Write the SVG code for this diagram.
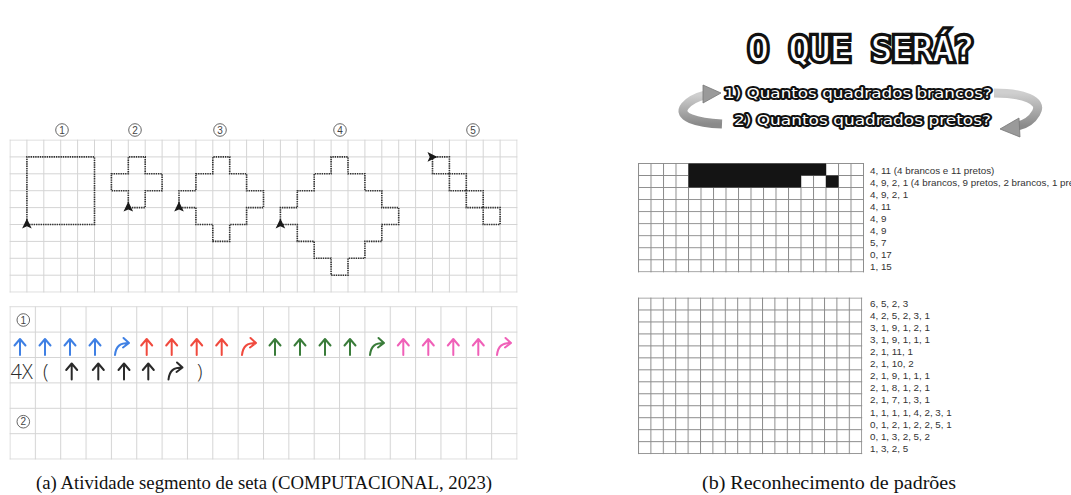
<svg xmlns="http://www.w3.org/2000/svg" width="1071" height="495" viewBox="0 0 1071 495">
<style>
.lbl{font-family:"Liberation Sans",Arial,sans-serif;font-size:10px;fill:#444;text-anchor:middle}
.circ{fill:none;stroke:#555;stroke-width:0.9}
.dot{fill:none;stroke:#333;stroke-width:1.6;stroke-dasharray:1.4 0.9}
.tri{fill:#1a1a1a}
.hand{fill:none;stroke-width:2;stroke-linecap:round;stroke-linejoin:round}
.blue{stroke:#3f80e4}.red{stroke:#f04a3e}.green{stroke:#3a7c3a}.pink{stroke:#f060b8}.black{stroke:#2a2a2a}
.hw{font-family:"Open Sans","DejaVu Sans",sans-serif;font-weight:300;font-size:20px;fill:#2a2a2a}
.num{font-family:"Liberation Sans",Arial,sans-serif;font-size:9.8px;fill:#333}
.cap{font-family:"Liberation Serif","Times New Roman",serif;font-size:19px;fill:#111;text-anchor:middle}
.sub{font-family:"DejaVu Sans",sans-serif;font-weight:normal;font-size:14px;fill:#fff;stroke:#111;stroke-width:3.8;paint-order:stroke;stroke-linejoin:round}
.title{font-family:"DejaVu Sans Mono",monospace;font-weight:normal;font-size:34px;fill:#fff;stroke:#111;stroke-width:6.5;paint-order:stroke;stroke-linejoin:miter}
.garrow{fill:none;stroke:url(#gg);stroke-width:9}
.ghead{fill:#9a9a9a;stroke:#777;stroke-width:0.8}
</style>
<defs>
<pattern id="gridA" x="9.5" y="139.5" width="16.9" height="16.9" patternUnits="userSpaceOnUse"><path d="M0 0.5H16.9M0.5 0V16.9" stroke="#d4d4d4" stroke-width="1" fill="none"/></pattern>
<pattern id="gridB" x="9.5" y="306.2" width="25.35" height="25.4" patternUnits="userSpaceOnUse"><path d="M0 0.5H25.35M0.5 0V25.4" stroke="#d4d4d4" stroke-width="1" fill="none"/></pattern>
<pattern id="gridC" x="638" y="163" width="12.5" height="12.04" patternUnits="userSpaceOnUse"><path d="M0 0.5H12.5M0.5 0V12.04" stroke="#8c8c8c" stroke-width="1" fill="none"/></pattern>
<pattern id="gridD" x="638" y="297.5" width="12.4" height="11.97" patternUnits="userSpaceOnUse"><path d="M0 0.5H12.4M0.5 0V11.97" stroke="#8c8c8c" stroke-width="1" fill="none"/></pattern>
<linearGradient id="gg" x1="0" y1="0" x2="0" y2="1"><stop offset="0" stop-color="#cfcfcf"/><stop offset="1" stop-color="#8a8a8a"/></linearGradient>
<path id="up" d="M0 8V-7M-5.5 -1.5L0 -8L5.5 -1.5"/>
<path id="cv" d="M-7 8C-6 -1 -2 -4 7 -4M1.5 -9L7 -4L1 0.5"/>
<path id="tu" d="M0 -5.5L4.8 4.5L0 2.3L-4.8 4.5Z"/>
</defs>
<rect width="1071" height="495" fill="#fff"/>

<g id="panel-a">
<g id="grid-top"><rect x="9.5" y="139.5" width="508" height="153.1" fill="url(#gridA)"/></g>
<g id="grid-bottom"><rect x="9.5" y="306.2" width="508" height="153.4" fill="url(#gridB)"/></g>

<g id="label-1"><circle class="circ" cx="62" cy="130" r="6.3"/><text class="lbl" x="62" y="133.6">1</text></g>
<g id="label-2"><circle class="circ" cx="135" cy="130" r="6.3"/><text class="lbl" x="135" y="133.6">2</text></g>
<g id="label-3"><circle class="circ" cx="220" cy="130" r="6.3"/><text class="lbl" x="220" y="133.6">3</text></g>
<g id="label-4"><circle class="circ" cx="340" cy="130" r="6.3"/><text class="lbl" x="340" y="133.6">4</text></g>
<g id="label-5"><circle class="circ" cx="473" cy="130" r="6.3"/><text class="lbl" x="473" y="133.6">5</text></g>

<g id="shape-1"><path class="dot" d="M26.9 224.5V156.9H94.5V224.5Z"/><use href="#tu" class="tri" x="26.9" y="224"/></g>
<g id="shape-2"><path class="dot" d="M128.3 207.6V190.7H111.4V173.8H128.3V156.9H145.2V173.8H162.1V190.7H145.2V207.6Z"/><use href="#tu" class="tri" x="128.3" y="207.1"/></g>
<g id="shape-3"><path class="dot" d="M179 207.6V190.7H195.9V173.8H212.8V156.9H229.7V173.8H246.6V190.7H263.5V207.6H246.6V224.5H229.7V241.4H212.8V224.5H195.9V207.6Z"/><use href="#tu" class="tri" x="179" y="207.1"/></g>
<g id="shape-4"><path class="dot" d="M280.4 224.5V207.6H297.3V190.7H314.2V173.8H331.1V156.9H348V173.8H364.9V190.7H381.8V207.6H398.7V224.5H381.8V241.4H364.9V258.3H348V275.2H331.1V258.3H314.2V241.4H297.3V224.5Z"/><use href="#tu" class="tri" x="280.4" y="224"/></g>
<g id="shape-5"><path class="dot" d="M432.5 156.9H449.4V173.8H432.5ZM449.4 173.8H466.3V190.7H449.4ZM466.3 190.7H483.2V207.6H466.3ZM483.2 207.6H500.1V224.5H483.2Z"/><use href="#tu" class="tri" transform="translate(432 156.9) rotate(90)"/></g>

<g id="label-b1"><circle class="circ" cx="23.3" cy="320" r="6.3"/><text class="lbl" x="23.3" y="323.6">1</text></g>
<g id="label-b2"><circle class="circ" cx="23.3" cy="421.7" r="6.3"/><text class="lbl" x="23.3" y="425.3">2</text></g>

<g id="arrow-row">
<use href="#up" class="hand blue" x="20" y="347"/><use href="#up" class="hand blue" x="45" y="347"/><use href="#up" class="hand blue" x="70" y="347"/><use href="#up" class="hand blue" x="95" y="347"/><use href="#cv" class="hand blue" x="122" y="347"/>
<use href="#up" class="hand red" x="146.7" y="347"/><use href="#up" class="hand red" x="171.7" y="347"/><use href="#up" class="hand red" x="196.7" y="347"/><use href="#up" class="hand red" x="221.7" y="347"/><use href="#cv" class="hand red" x="249" y="347"/>
<use href="#up" class="hand green" x="275" y="347"/><use href="#up" class="hand green" x="300" y="347"/><use href="#up" class="hand green" x="325" y="347"/><use href="#up" class="hand green" x="350" y="347"/><use href="#cv" class="hand green" x="377" y="347"/>
<use href="#up" class="hand pink" x="403.3" y="347"/><use href="#up" class="hand pink" x="428.3" y="347"/><use href="#up" class="hand pink" x="453.3" y="347"/><use href="#up" class="hand pink" x="478.3" y="347"/><use href="#cv" class="hand pink" x="504" y="347"/>
</g>
<g id="loop-row">
<text class="hw" x="10.5" y="379">4X</text>
<text class="hw" x="43" y="379">(</text>
<use href="#up" class="hand black" x="71.7" y="371.5"/><use href="#up" class="hand black" x="98.3" y="371.5"/><use href="#up" class="hand black" x="124" y="371.5"/><use href="#up" class="hand black" x="148.3" y="371.5"/><use href="#cv" class="hand black" x="175.5" y="371.5"/>
<text class="hw" x="197" y="379">)</text>
</g>
</g>

<g id="panel-b">
<g id="title"><text class="title" x="861" y="61" text-anchor="middle" textLength="226" lengthAdjust="spacingAndGlyphs">O QUE SERÁ?</text></g>
<g id="question-1"><text class="sub" x="724" y="98" textLength="268" lengthAdjust="spacingAndGlyphs">1) Quantos quadrados brancos?</text></g>
<g id="question-2"><text class="sub" x="734" y="124.5" textLength="257" lengthAdjust="spacingAndGlyphs">2) Quantos quadrados pretos?</text></g>
<g id="cycle-arrows">
<path class="garrow" d="M722 124C697 123 676 117 685 106C690 100 697 97 705 95"/>
<path class="ghead" d="M703 85L721 93L703 103Z"/>
<path class="garrow" d="M994 93C1022 93 1044 100 1036 113C1032 120 1026 124 1018 126"/>
<path class="ghead" d="M1019 118L1000 129L1020 137Z"/>
</g>

<g id="grid-pattern-1">
<rect x="638" y="163" width="226" height="109.4" fill="url(#gridC)"/>
<path fill="#141414" d="M688.5 163.5H826V175.5H688.5ZM688.5 175.5H801V187.5H688.5ZM826 175.5H838.5V187.5H826Z"/>
</g>
<g id="codes-1">
<text class="num" x="870" y="174.2">4, 11 (4 brancos e 11 pretos)</text>
<text class="num" x="870" y="186.1">4, 9, 2, 1 (4 brancos, 9 pretos, 2 brancos, 1 preto)</text>
<text class="num" x="870" y="198">4, 9, 2, 1</text>
<text class="num" x="870" y="210">4, 11</text>
<text class="num" x="870" y="221.9">4, 9</text>
<text class="num" x="870" y="233.8">4, 9</text>
<text class="num" x="870" y="245.8">5, 7</text>
<text class="num" x="870" y="257.7">0, 17</text>
<text class="num" x="870" y="269.6">1, 15</text>
</g>
<g id="grid-pattern-2"><rect x="638" y="297.5" width="224.2" height="156.6" fill="url(#gridD)"/></g>
<g id="codes-2">
<text class="num" x="870" y="306.8">6, 5, 2, 3</text>
<text class="num" x="870" y="318.9">4, 2, 5, 2, 3, 1</text>
<text class="num" x="870" y="331">3, 1, 9, 1, 2, 1</text>
<text class="num" x="870" y="343">3, 1, 9, 1, 1, 1</text>
<text class="num" x="870" y="355.1">2, 1, 11, 1</text>
<text class="num" x="870" y="367.2">2, 1, 10, 2</text>
<text class="num" x="870" y="379.3">2, 1, 9, 1, 1, 1</text>
<text class="num" x="870" y="391.4">2, 1, 8, 1, 2, 1</text>
<text class="num" x="870" y="403.4">2, 1, 7, 1, 3, 1</text>
<text class="num" x="870" y="415.5">1, 1, 1, 1, 4, 2, 3, 1</text>
<text class="num" x="870" y="427.6">0, 1, 2, 1, 2, 2, 5, 1</text>
<text class="num" x="870" y="439.7">0, 1, 3, 2, 5, 2</text>
<text class="num" x="870" y="451.8">1, 3, 2, 5</text>
</g>
</g>

<g id="captions">
<text class="cap" x="264" y="489" textLength="456" lengthAdjust="spacingAndGlyphs">(a) Atividade segmento de seta (COMPUTACIONAL, 2023)</text>
<text class="cap" x="829" y="489" textLength="254" lengthAdjust="spacingAndGlyphs">(b) Reconhecimento de padrões</text>
</g>
</svg>
